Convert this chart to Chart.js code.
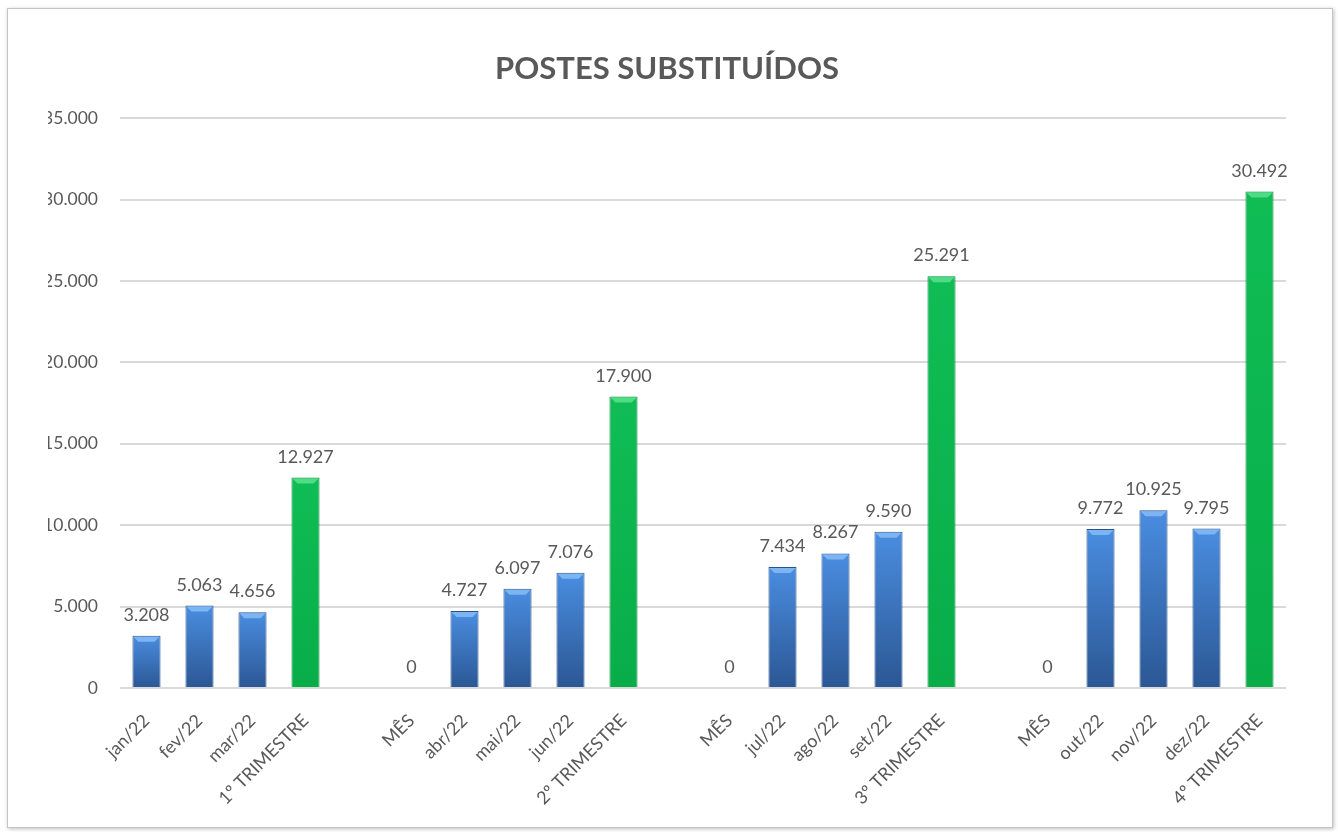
<!DOCTYPE html>
<html>
<head>
<meta charset="utf-8">
<script src="https://cdn.jsdelivr.net/npm/chart.js@4.4.1/dist/chart.umd.min.js"></script>
<style>
  html, body { margin: 0; padding: 0; background: #fff; }
  body { width: 1338px; height: 832px; position: relative; overflow: hidden; }
  #frame {
    position: absolute; left: 7px; top: 8px; width: 1324px; height: 818px;
    border: 1px solid #c4c4c4; box-shadow: 1px 1px 4px rgba(0,0,0,0.25);
    background: #fff; overflow: hidden;
  }
  #wrap { position: absolute; left: 40px; top: 0px; width: 1284px; height: 818px; }
</style>
</head>
<body>
<div id="frame"><div id="wrap"><canvas id="postesChart"></canvas></div></div>
<script>
const categories = ['jan/22', 'fev/22', 'mar/22', '1º TRIMESTRE', '',
  'MÊS', 'abr/22', 'mai/22', 'jun/22', '2º TRIMESTRE', '',
  'MÊS', 'jul/22', 'ago/22', 'set/22', '3º TRIMESTRE', '',
  'MÊS', 'out/22', 'nov/22', 'dez/22', '4º TRIMESTRE'];
const monthly = [3208, 5063, 4656, null, null,
  0, 4727, 6097, 7076, null, null,
  0, 7434, 8267, 9590, null, null,
  0, 9772, 10925, 9795, null];
const quarterly = [null, null, null, 12927, null,
  null, null, null, null, 17900, null,
  null, null, null, null, 25291, null,
  null, null, null, null, 30492];
const yTicks = [0, 5000, 10000, 15000, 20000, 25000, 30000, 35000];

const grey = '#595959';
const fmt = v => String(v).replace(/\B(?=(\d{3})+(?!\d))/g, '.');

function barFill(top, bottom) {
  return function (c) {
    const chart = c.chart;
    if (!chart.chartArea || c.raw == null) return top;
    const y = chart.scales.y;
    const g = chart.ctx.createLinearGradient(0, y.getPixelForValue(c.raw), 0, y.getPixelForValue(0));
    g.addColorStop(0, top);
    g.addColorStop(1, bottom);
    return g;
  };
}

// light bevel on top of each bar + value labels
const barDecor = {
  id: 'barDecor',
  afterDatasetsDraw(chart) {
    const ctx = chart.ctx;
    const bevel = ['#7db5f2', '#4fdc87'];
    chart.data.datasets.forEach((ds, i) => {
      chart.getDatasetMeta(i).data.forEach((el, j) => {
        const v = ds.data[j];
        if (v == null) return;
        const p = el.getProps(['x', 'y', 'width'], true);
        if (v > 0) {
          const h = p.width / 2;
          ctx.save();
          ctx.fillStyle = bevel[i];
          ctx.beginPath();
          ctx.moveTo(p.x - h + 1, p.y + 1);
          ctx.lineTo(p.x + h - 1, p.y + 1);
          ctx.lineTo(p.x + h - 6, p.y + 6);
          ctx.lineTo(p.x - h + 6, p.y + 6);
          ctx.closePath();
          ctx.fill();
          ctx.restore();
        }
        ctx.save();
        ctx.fillStyle = grey;
        ctx.font = '18px Lato';
        ctx.textAlign = 'center';
        ctx.textBaseline = 'alphabetic';
        ctx.fillText(fmt(v), p.x, p.y - 15);
        ctx.restore();
      });
    });
  }
};

new Chart(document.getElementById('postesChart'), {
  type: 'bar',
  data: {
    labels: categories,
    datasets: [{
      data: monthly,
      backgroundColor: barFill('#4a8de0', '#2b5794'),
      borderColor: '#2a5189',
      borderWidth: c => (c.raw ? 1 : 0),
      grouped: false,
      barPercentage: 0.53,
      categoryPercentage: 1
    }, {
      data: quarterly,
      backgroundColor: barFill('#10bd55', '#08ad48'),
      borderColor: '#0a8a3a',
      borderWidth: 1,
      grouped: false,
      barPercentage: 0.53,
      categoryPercentage: 1
    }]
  },
  options: {
    responsive: true,
    maintainAspectRatio: false,
    animation: false,
    layout: { padding: { left: 0, right: 46, top: 0, bottom: 0 } },
    plugins: {
      legend: { display: false },
      tooltip: { enabled: false },
      title: {
        display: true,
        text: 'POSTES SUBSTITUÍDOS',
        color: grey,
        font: { family: 'Lato', size: 31, weight: 'bold', lineHeight: 1.2 },
        padding: { top: 41, bottom: 31 }
      }
    },
    scales: {
      x: {
        grid: { display: false },
        border: { display: false },
        ticks: {
          color: grey,
          font: { family: 'Lato', size: 18 },
          minRotation: 45,
          maxRotation: 45,
          autoSkip: false,
          padding: 14
        },
        afterFit: s => { s.height = 139; }
      },
      y: {
        min: 0,
        max: 35000,
        afterBuildTicks: s => { s.ticks = yTicks.map(v => ({ value: v })); },
        grid: { color: '#d9d9d9', lineWidth: 2, drawTicks: false },
        border: { display: false },
        ticks: {
          color: grey,
          font: { family: 'Lato', size: 17.5 },
          padding: 22,
          callback: v => fmt(v)
        },
        afterFit: s => { s.width = 72; }
      }
    }
  },
  plugins: [barDecor]
});
</script>
</body>
</html>
